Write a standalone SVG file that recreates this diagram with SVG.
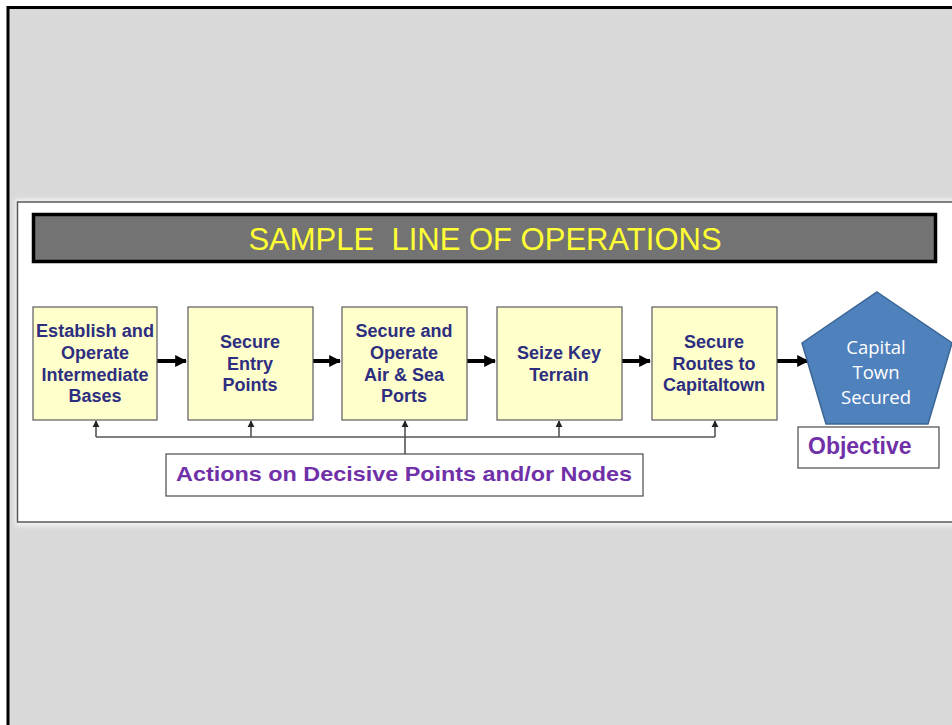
<svg xmlns="http://www.w3.org/2000/svg" width="952" height="725" viewBox="0 0 952 725">
  <defs>
    <style>
      .step { fill: #ffffcc; stroke: #5a5a5a; stroke-width: 1.2; }
      .steptxt { font-family: "Liberation Sans", Arial, sans-serif; font-weight: bold; font-size: 18px; fill: #2e2e80; text-anchor: middle; }
      .flow { stroke: #000; stroke-width: 4; fill: none; }
      .feed { stroke: #555; stroke-width: 1.6; fill: none; }
      .label { fill: #fff; stroke: #4a4a4a; stroke-width: 1.2; }
      .labeltxt { font-family: "Liberation Sans", Arial, sans-serif; font-weight: bold; fill: #7030a8; }
    </style>
    <marker id="bigHead" viewBox="0 0 10 10" refX="9" refY="5" markerWidth="3" markerHeight="3.4" orient="auto" markerUnits="strokeWidth">
      <path d="M0,0 L10,5 L0,10 Z" fill="#000"/>
    </marker>
    <marker id="smallHead" viewBox="0 0 10 10" refX="9" refY="5" markerWidth="4.5" markerHeight="4.5" orient="auto" markerUnits="strokeWidth">
      <path d="M0,0 L10,5 L0,10 Z" fill="#222"/>
    </marker>
    <filter id="halo" x="-5%" y="-5%" width="110%" height="110%">
      <feGaussianBlur stdDeviation="2"/>
    </filter>
  </defs>

  <!-- slide background and frame -->
  <rect x="0" y="0" width="952" height="725" fill="#ffffff"/>
  <rect x="8" y="7.5" width="960" height="740" fill="#d9d9d9" stroke="#000" stroke-width="3"/>

  <!-- white content panel -->
  <rect x="15" y="199" width="950" height="327" fill="#f2f2f2" filter="url(#halo)"/>
  <rect x="17.5" y="202" width="950" height="320" fill="#ffffff" stroke="#5a5a5a" stroke-width="1.5"/>

  <!-- title bar -->
  <g id="title">
    <rect x="33.5" y="214.5" width="902" height="47" fill="#737373" stroke="#000" stroke-width="3.5"/>
    <text x="485" y="250" font-family="Liberation Sans, Arial, sans-serif" font-size="31" fill="#ffff33" text-anchor="middle" xml:space="preserve">SAMPLE  LINE OF OPERATIONS</text>
  </g>

  <!-- flow connectors and feedback lines -->
  <g id="connectors">
    <line class="flow" x1="157" y1="361" x2="186" y2="361" marker-end="url(#bigHead)"/>
    <line class="flow" x1="313" y1="361" x2="340" y2="361" marker-end="url(#bigHead)"/>
    <line class="flow" x1="467" y1="361" x2="495" y2="361" marker-end="url(#bigHead)"/>
    <line class="flow" x1="622" y1="361" x2="650" y2="361" marker-end="url(#bigHead)"/>
    <line class="flow" x1="777" y1="361" x2="808" y2="361" marker-end="url(#bigHead)"/>

    <line class="feed" x1="96" y1="437" x2="715" y2="437"/>
    <line class="feed" x1="96" y1="437" x2="96" y2="421" marker-end="url(#smallHead)"/>
    <line class="feed" x1="251" y1="437" x2="251" y2="421" marker-end="url(#smallHead)"/>
    <line class="feed" x1="405" y1="454" x2="405" y2="421" marker-end="url(#smallHead)"/>
    <line class="feed" x1="559" y1="437" x2="559" y2="421" marker-end="url(#smallHead)"/>
    <line class="feed" x1="715" y1="437" x2="715" y2="421" marker-end="url(#smallHead)"/>
  </g>

  <g id="step1">
    <rect class="step" x="33" y="307" width="124" height="113"/>
    <text class="steptxt" x="95" y="337" textLength="118" lengthAdjust="spacingAndGlyphs">Establish and</text>
    <text class="steptxt" x="95" y="359">Operate</text>
    <text class="steptxt" x="95" y="381">Intermediate</text>
    <text class="steptxt" x="95" y="402">Bases</text>
  </g>

  <g id="step2">
    <rect class="step" x="188" y="307" width="125" height="113"/>
    <text class="steptxt" x="250" y="348">Secure</text>
    <text class="steptxt" x="250" y="370">Entry</text>
    <text class="steptxt" x="250" y="391">Points</text>
  </g>

  <g id="step3">
    <rect class="step" x="342" y="307" width="125" height="113"/>
    <text class="steptxt" x="404" y="337">Secure and</text>
    <text class="steptxt" x="404" y="359">Operate</text>
    <text class="steptxt" x="404" y="381">Air &amp; Sea</text>
    <text class="steptxt" x="404" y="402">Ports</text>
  </g>

  <g id="step4">
    <rect class="step" x="497" y="307" width="125" height="113"/>
    <text class="steptxt" x="559" y="359">Seize Key</text>
    <text class="steptxt" x="559" y="381">Terrain</text>
  </g>

  <g id="step5">
    <rect class="step" x="652" y="307" width="125" height="113"/>
    <text class="steptxt" x="714" y="348">Secure</text>
    <text class="steptxt" x="714" y="370">Routes to</text>
    <text class="steptxt" x="714" y="391">Capitaltown</text>
  </g>

  <g id="capital">
    <polygon points="877,292 952,343 928,424 826,424 802,343" fill="#4f81bd" stroke="#3a6595" stroke-width="1.5"/>
    <g font-family="Open Sans, Liberation Sans, sans-serif" font-size="18.5" fill="#ffffff" text-anchor="middle">
      <text x="876" y="354">Capital</text>
      <text x="876" y="379">Town</text>
      <text x="876" y="404">Secured</text>
    </g>
  </g>

  <g id="objective">
    <rect class="label" x="798" y="427" width="141" height="41"/>
    <text class="labeltxt" x="808" y="454" font-size="23">Objective</text>
  </g>

  <g id="actions">
    <rect class="label" x="166" y="454" width="477" height="42"/>
    <text class="labeltxt" x="176" y="481" font-size="21" textLength="456" lengthAdjust="spacingAndGlyphs">Actions on Decisive Points and/or Nodes</text>
  </g>
</svg>
